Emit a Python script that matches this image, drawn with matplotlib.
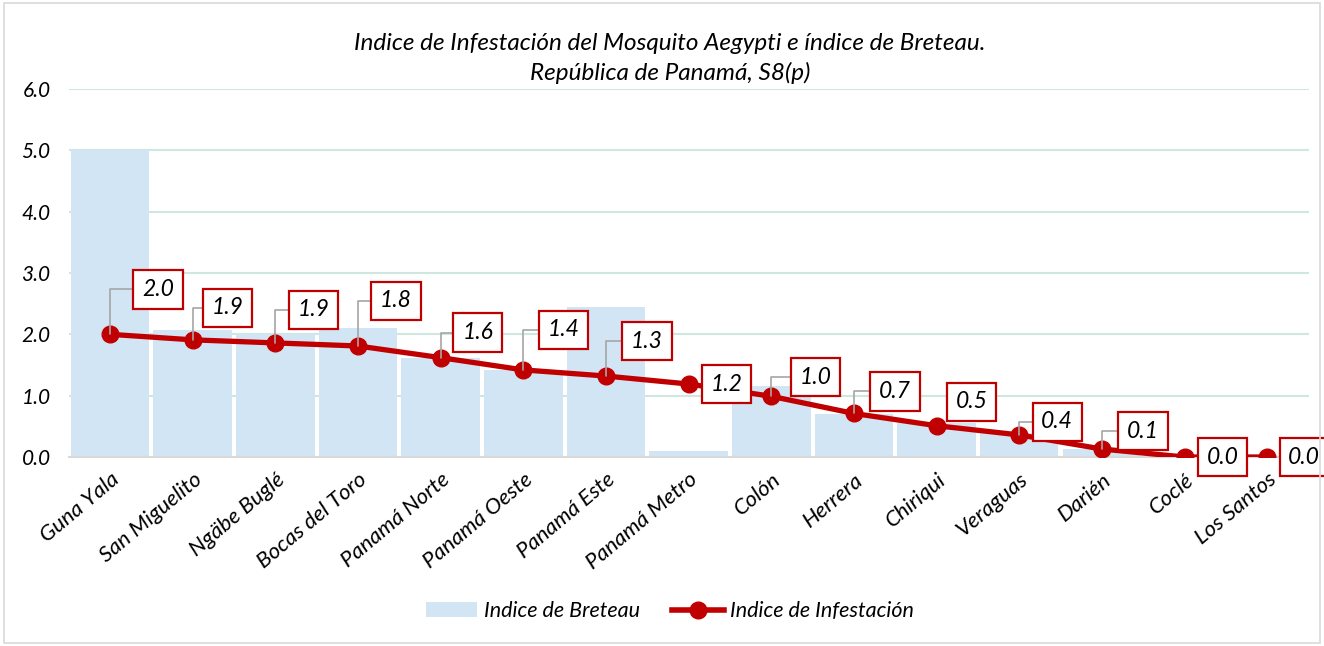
import matplotlib
matplotlib.use("Agg")
import matplotlib.pyplot as plt
from matplotlib.patches import Rectangle
from matplotlib.lines import Line2D
from matplotlib.patches import Patch

plt.rcParams['font.family'] = ['Lato', 'DejaVu Sans']

categories = ["Guna Yala", "San Miguelito", "Ngäbe Buglé", "Bocas del Toro", "Panamá Norte",
              "Panamá Oeste", "Panamá Este", "Panamá Metro", "Colón", "Herrera",
              "Chiriqui", "Veraguas", "Darién", "Coclé", "Los Santos"]
breteau = [5.0, 2.07, 2.0, 2.11, 1.61, 1.42, 2.45, 0.10, 1.16, 0.70, 0.55, 0.39, 0.13, 0.0, 0.0]
infestacion = [2.0, 1.91, 1.86, 1.81, 1.62, 1.42, 1.32, 1.19, 0.99, 0.71, 0.51, 0.36, 0.13, 0.0, 0.0]

title = "Indice de Infestación del Mosquito Aegypti e índice de Breteau.\nRepública de Panamá, S8(p)"

# label offsets in pixels (dx, dy) and leader flags
label_offsets = [(48, 45), (35, 32), (38, 33), (38, 45), (37, 25), (40, 40), (41, 35), (38, 0),
                 (44, 19), (41, 22), (35, 24), (38, 13), (41, 18), (38, 0), (37, 0)]
leaders = [True, True, True, True, True, True, True, False, True, True, False, True, True, False, False]

RED = "#c00000"
BAR = "#d2e5f4"
GRID = "#cfe7df"

fig = plt.figure(figsize=(13.24, 6.46), dpi=100)
fig.patches.append(Rectangle((0.003, 0.005), 0.994, 0.99, transform=fig.transFigure,
                             fill=False, edgecolor="#d9d9d9", linewidth=1.2))
ax = fig.add_axes([68.7 / 1324, 189 / 646, 1239.8 / 1324, 368 / 646])

x = list(range(len(categories)))
ax.bar(x, breteau, width=0.95, color=BAR, edgecolor="none", zorder=2)
ax.plot(x, infestacion, color=RED, linewidth=3.8, marker='o', markersize=12,
        markerfacecolor=RED, markeredgecolor=RED, zorder=4)

for i, (v, (dx, dy), ld) in enumerate(zip(infestacion, label_offsets, leaders)):
    kw = {}
    if ld:
        kw['arrowprops'] = dict(arrowstyle='-', color='#a6a6a6', lw=1.2,
                                connectionstyle="angle,angleA=0,angleB=90,rad=0",
                                shrinkA=0, shrinkB=0)
    ax.annotate(f"{v:.1f}", xy=(i, v), xytext=(dx, dy), textcoords='offset pixels',
                ha='center', va='center', fontsize=16.5, style='italic', color='black',
                bbox=dict(boxstyle='square,pad=0.38', facecolor='white', edgecolor=RED, linewidth=1.6),
                annotation_clip=False, zorder=6, **kw)

ax.set_xlim(-0.5, len(categories) - 0.5)
ax.set_ylim(0, 6)
ax.set_yticks([0, 1, 2, 3, 4, 5, 6])
ax.set_yticklabels([f"{t:.1f}" for t in [0, 1, 2, 3, 4, 5, 6]], fontsize=15, style='italic')
ax.yaxis.grid(True, color=GRID, linewidth=1.5, zorder=0)
ax.set_axisbelow(True)
ax.tick_params(axis='y', length=0, pad=13)
ax.tick_params(axis='x', length=0, pad=9)
ax.set_xticks(x)
ax.set_xticklabels(categories, rotation=40, ha='right', rotation_mode='anchor',
                   fontsize=16, style='italic')
for s in ['left', 'right', 'top']:
    ax.spines[s].set_visible(False)
ax.spines['bottom'].set_color('#d9d9d9')
ax.spines['bottom'].set_linewidth(1.5)
ax.spines['bottom'].set_zorder(3)

fig.text(0.506, 0.910, title, ha='center', va='center', fontsize=17.5, style='italic',
         linespacing=1.45)

handles = [Patch(facecolor=BAR, edgecolor='none'),
           Line2D([0], [0], color=RED, linewidth=4, marker='o', markersize=12)]
fig.legend(handles, ["Indice de Breteau", "Indice de Infestación"], loc='center',
           bbox_to_anchor=(0.506, 0.054), ncol=2, frameon=False,
           prop={'size': 15.5, 'style': 'italic'}, handlelength=2.4, columnspacing=1.5,
           handletextpad=0.3)

fig.savefig("out.png", dpi=100)
